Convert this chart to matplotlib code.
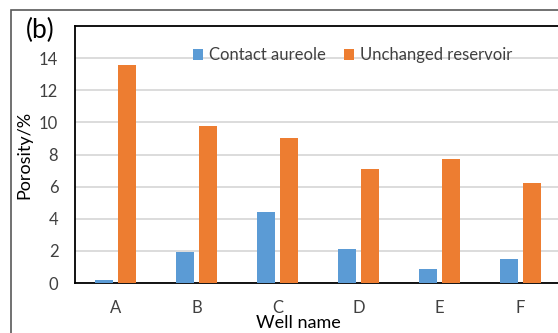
import matplotlib.pyplot as plt
import matplotlib.patches as patches
import numpy as np

wells = ['A', 'B', 'C', 'D', 'E', 'F']
contact_aureole = [0.2, 1.9, 4.4, 2.1, 0.9, 1.5]
unchanged = [13.6, 9.8, 9.0, 7.1, 7.7, 6.2]

plt.rcParams['font.family'] = ['Lato', 'DejaVu Sans']

fig = plt.figure(figsize=(5.58, 3.33), dpi=100)
ax = fig.add_axes([75/558, 1-283/333, 486/558, 257/333])

x = np.arange(len(wells))
w = 0.22
ax.bar(x - 0.14, contact_aureole, w, color='#5B9BD5', label='Contact aureole', zorder=3)
ax.bar(x + 0.14, unchanged, w, color='#ED7D31', label='Unchanged reservoir', zorder=3)

ax.set_xlim(-0.5, len(wells) - 0.5)
ax.set_ylim(0, 16)
ax.set_yticks([0, 2, 4, 6, 8, 10, 12, 14])
ax.set_xticks(x)
ax.set_xticklabels(wells)
ax.grid(axis='y', color='#D9D9D9', linewidth=1.3, zorder=0)
ax.tick_params(length=0, labelsize=12, colors='#404040')
ax.tick_params(axis='y', pad=12)
ax.tick_params(axis='x', pad=12)
for s in ['left', 'top', 'bottom']:
    ax.spines[s].set_color('black')
    ax.spines[s].set_linewidth(1.3)
ax.spines['right'].set_visible(False)

ax.set_ylabel('Porosity/%', fontsize=13, va='center')
ax.yaxis.set_label_coords((24 - 75) / 486, 0.5)
ax.set_xlabel('Well name', fontsize=13, va='center')
ax.xaxis.set_label_coords((298 - 75) / 486, -(323 - 283) / 257)

ax.legend(loc='upper center', bbox_to_anchor=(0.571, 0.975), ncol=2, frameon=False,
          fontsize=12, handlelength=0.6, handleheight=0.6, handletextpad=0.35,
          columnspacing=1.1, labelcolor='#404040')

# outer chart frame
fig.patches.append(patches.Rectangle((11/558, -0.1), 1.2, 1 - 10/333 + 0.1,
                                     transform=fig.transFigure, fill=False,
                                     edgecolor='#595959', linewidth=1.2))
fig.text(26/558, 1 - 30/333, '(b)', fontsize=19, va='center', ha='left')

fig.savefig('out.png', dpi=100)
